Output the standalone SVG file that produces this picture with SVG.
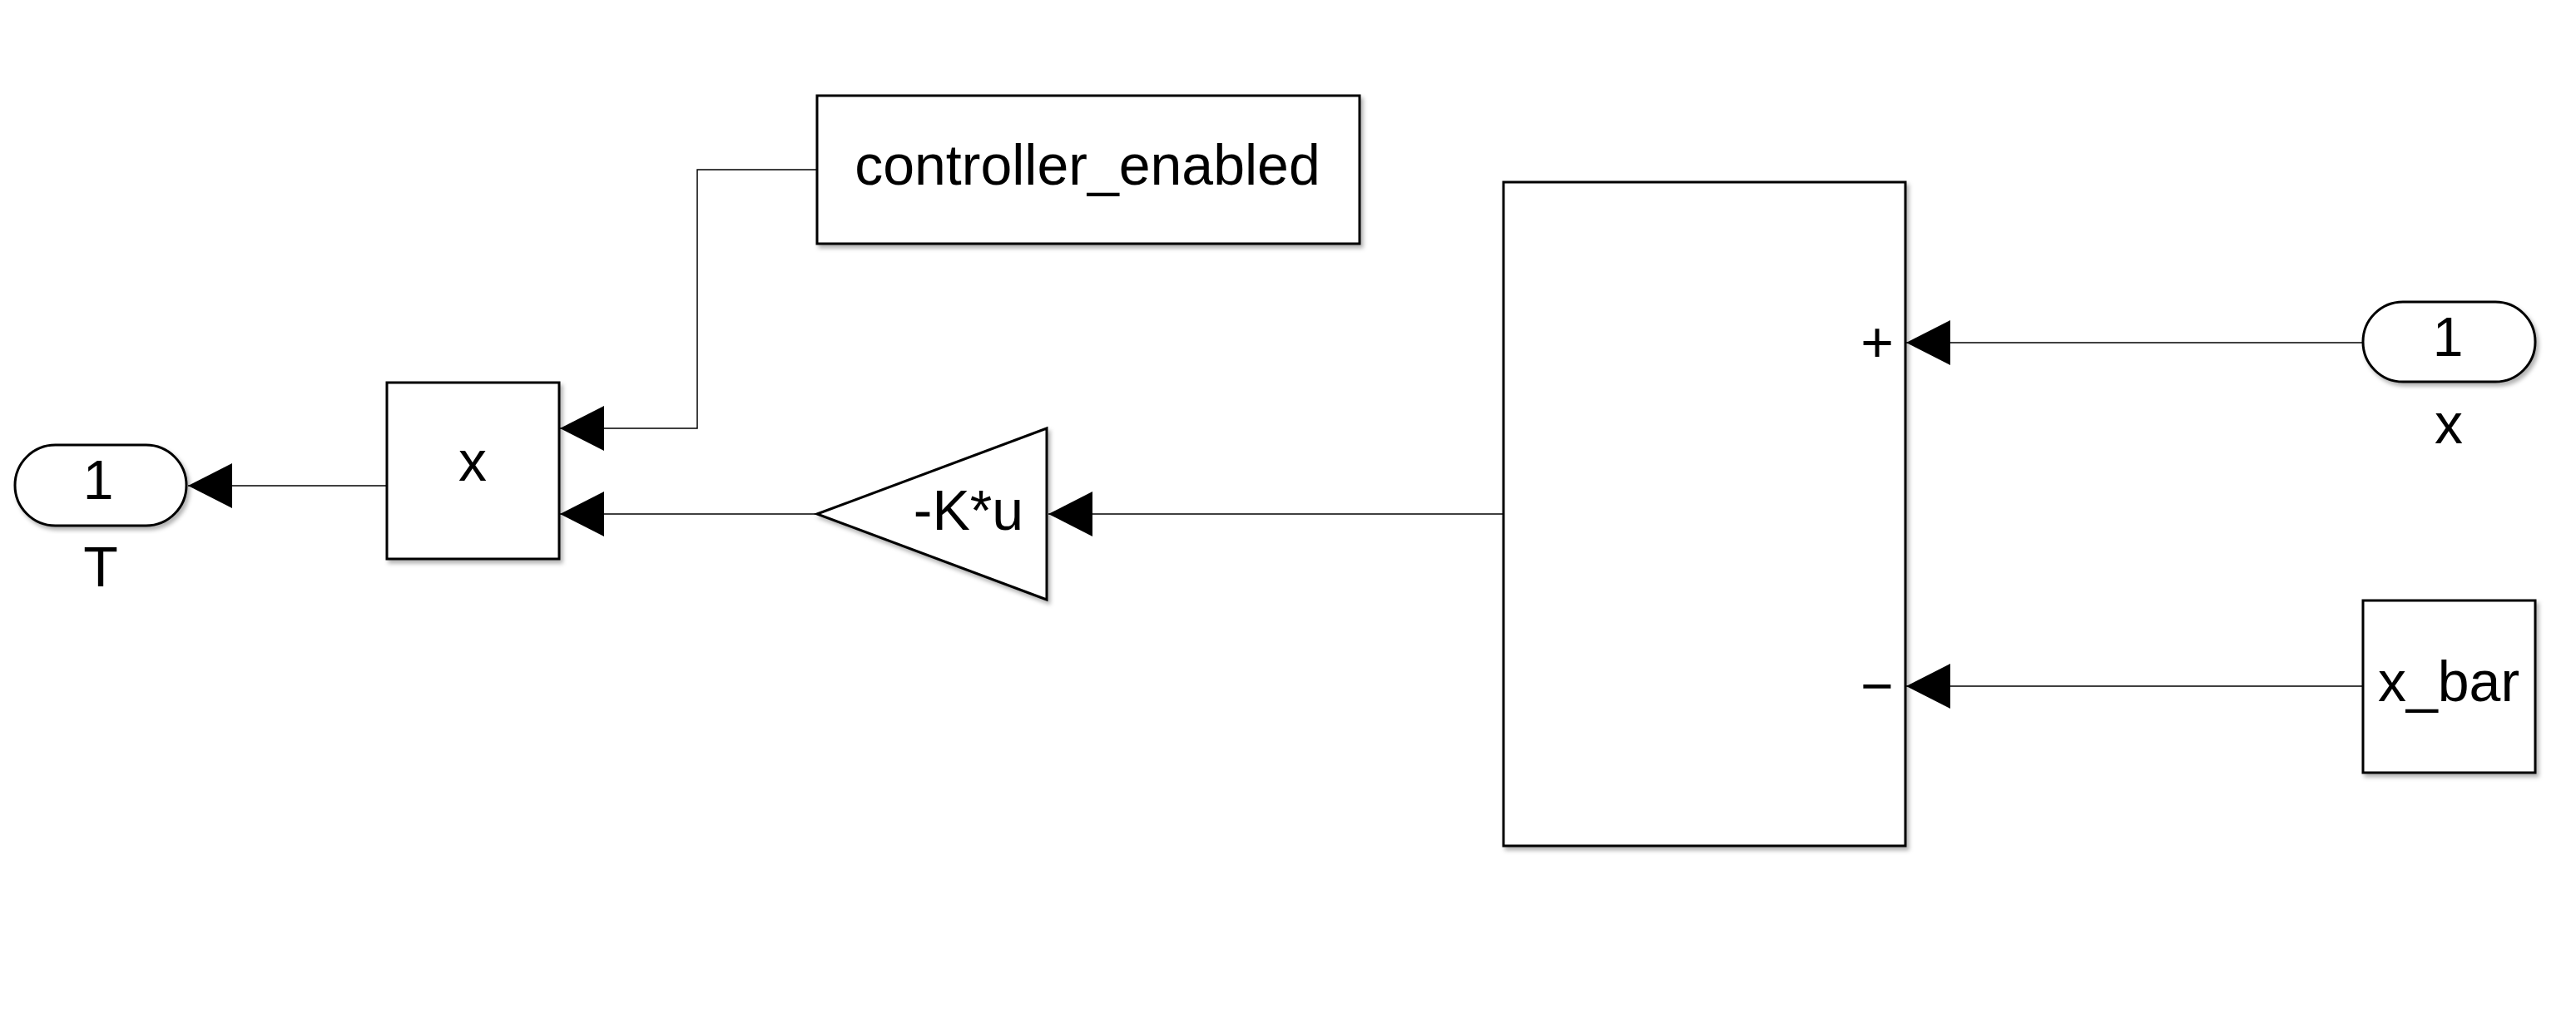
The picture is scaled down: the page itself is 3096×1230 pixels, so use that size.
<svg xmlns="http://www.w3.org/2000/svg" width="3096" height="1230" viewBox="0 0 3096 1230">
  <defs>
    <filter id="sh" x="-5%" y="-5%" width="115%" height="115%">
      <feDropShadow dx="3" dy="4" stdDeviation="2.5" flood-color="#000" flood-opacity="0.3"/>
    </filter>
    <marker id="arr" viewBox="0 0 53 54" refX="53" refY="27" markerWidth="53" markerHeight="54" markerUnits="userSpaceOnUse" orient="auto">
      <path d="M0,0 L53,27 L0,54 Z" fill="#000"/>
    </marker>
  </defs>
  <style>
    .blk { fill: #fff; stroke: #000; stroke-width: 3; filter: url(#sh); }
    .txt { font-family: "Liberation Sans", Arial, sans-serif; font-size: 68px; fill: #000; text-anchor: middle; }
    .num { font-size: 66px; }
    .wire { fill: none; stroke: #000; stroke-width: 1.5; marker-end: url(#arr); }
  </style>
  <rect width="3096" height="1230" fill="#fff"/>

  <g id="connectors">
    <path class="wire" d="M465,584 L226,584"/>
    <path class="wire" d="M981,204 L838,204 L838,515 L673,515"/>
    <path class="wire" d="M982,618 L673,618"/>
    <path class="wire" d="M1807,618 L1260,618"/>
    <path class="wire" d="M2840,412 L2291,412"/>
    <path class="wire" d="M2840,825 L2291,825"/>
  </g>

  <g id="out_T">
    <rect class="blk" x="18" y="535" width="206" height="97" rx="48.5" ry="48.5"/>
    <text class="txt num" x="118" y="600">1</text>
    <text class="txt" x="121" y="705">T</text>
  </g>

  <g id="product">
    <rect class="blk" x="465" y="460" width="207" height="212"/>
    <text class="txt" x="568" y="578">x</text>
  </g>

  <g id="controller_enabled">
    <rect class="blk" x="982" y="115" width="652" height="178"/>
    <text class="txt" x="1307" y="222">controller_enabled</text>
  </g>

  <g id="gain">
    <path class="blk" d="M982,618 L1258,515 L1258,721 Z"/>
    <text class="txt" x="1164" y="637">-K*u</text>
  </g>

  <g id="sum">
    <rect class="blk" x="1807" y="219" width="483" height="798"/>
    <text class="txt" x="2256" y="435">+</text>
    <text class="txt" x="2256" y="848">−</text>
  </g>

  <g id="in_x">
    <rect class="blk" x="2840" y="363" width="207" height="96" rx="48" ry="48"/>
    <text class="txt num" x="2942" y="428">1</text>
    <text class="txt" x="2943" y="533">x</text>
  </g>

  <g id="x_bar">
    <rect class="blk" x="2840" y="722" width="207" height="207"/>
    <text class="txt" x="2943" y="843">x_bar</text>
  </g>
</svg>
